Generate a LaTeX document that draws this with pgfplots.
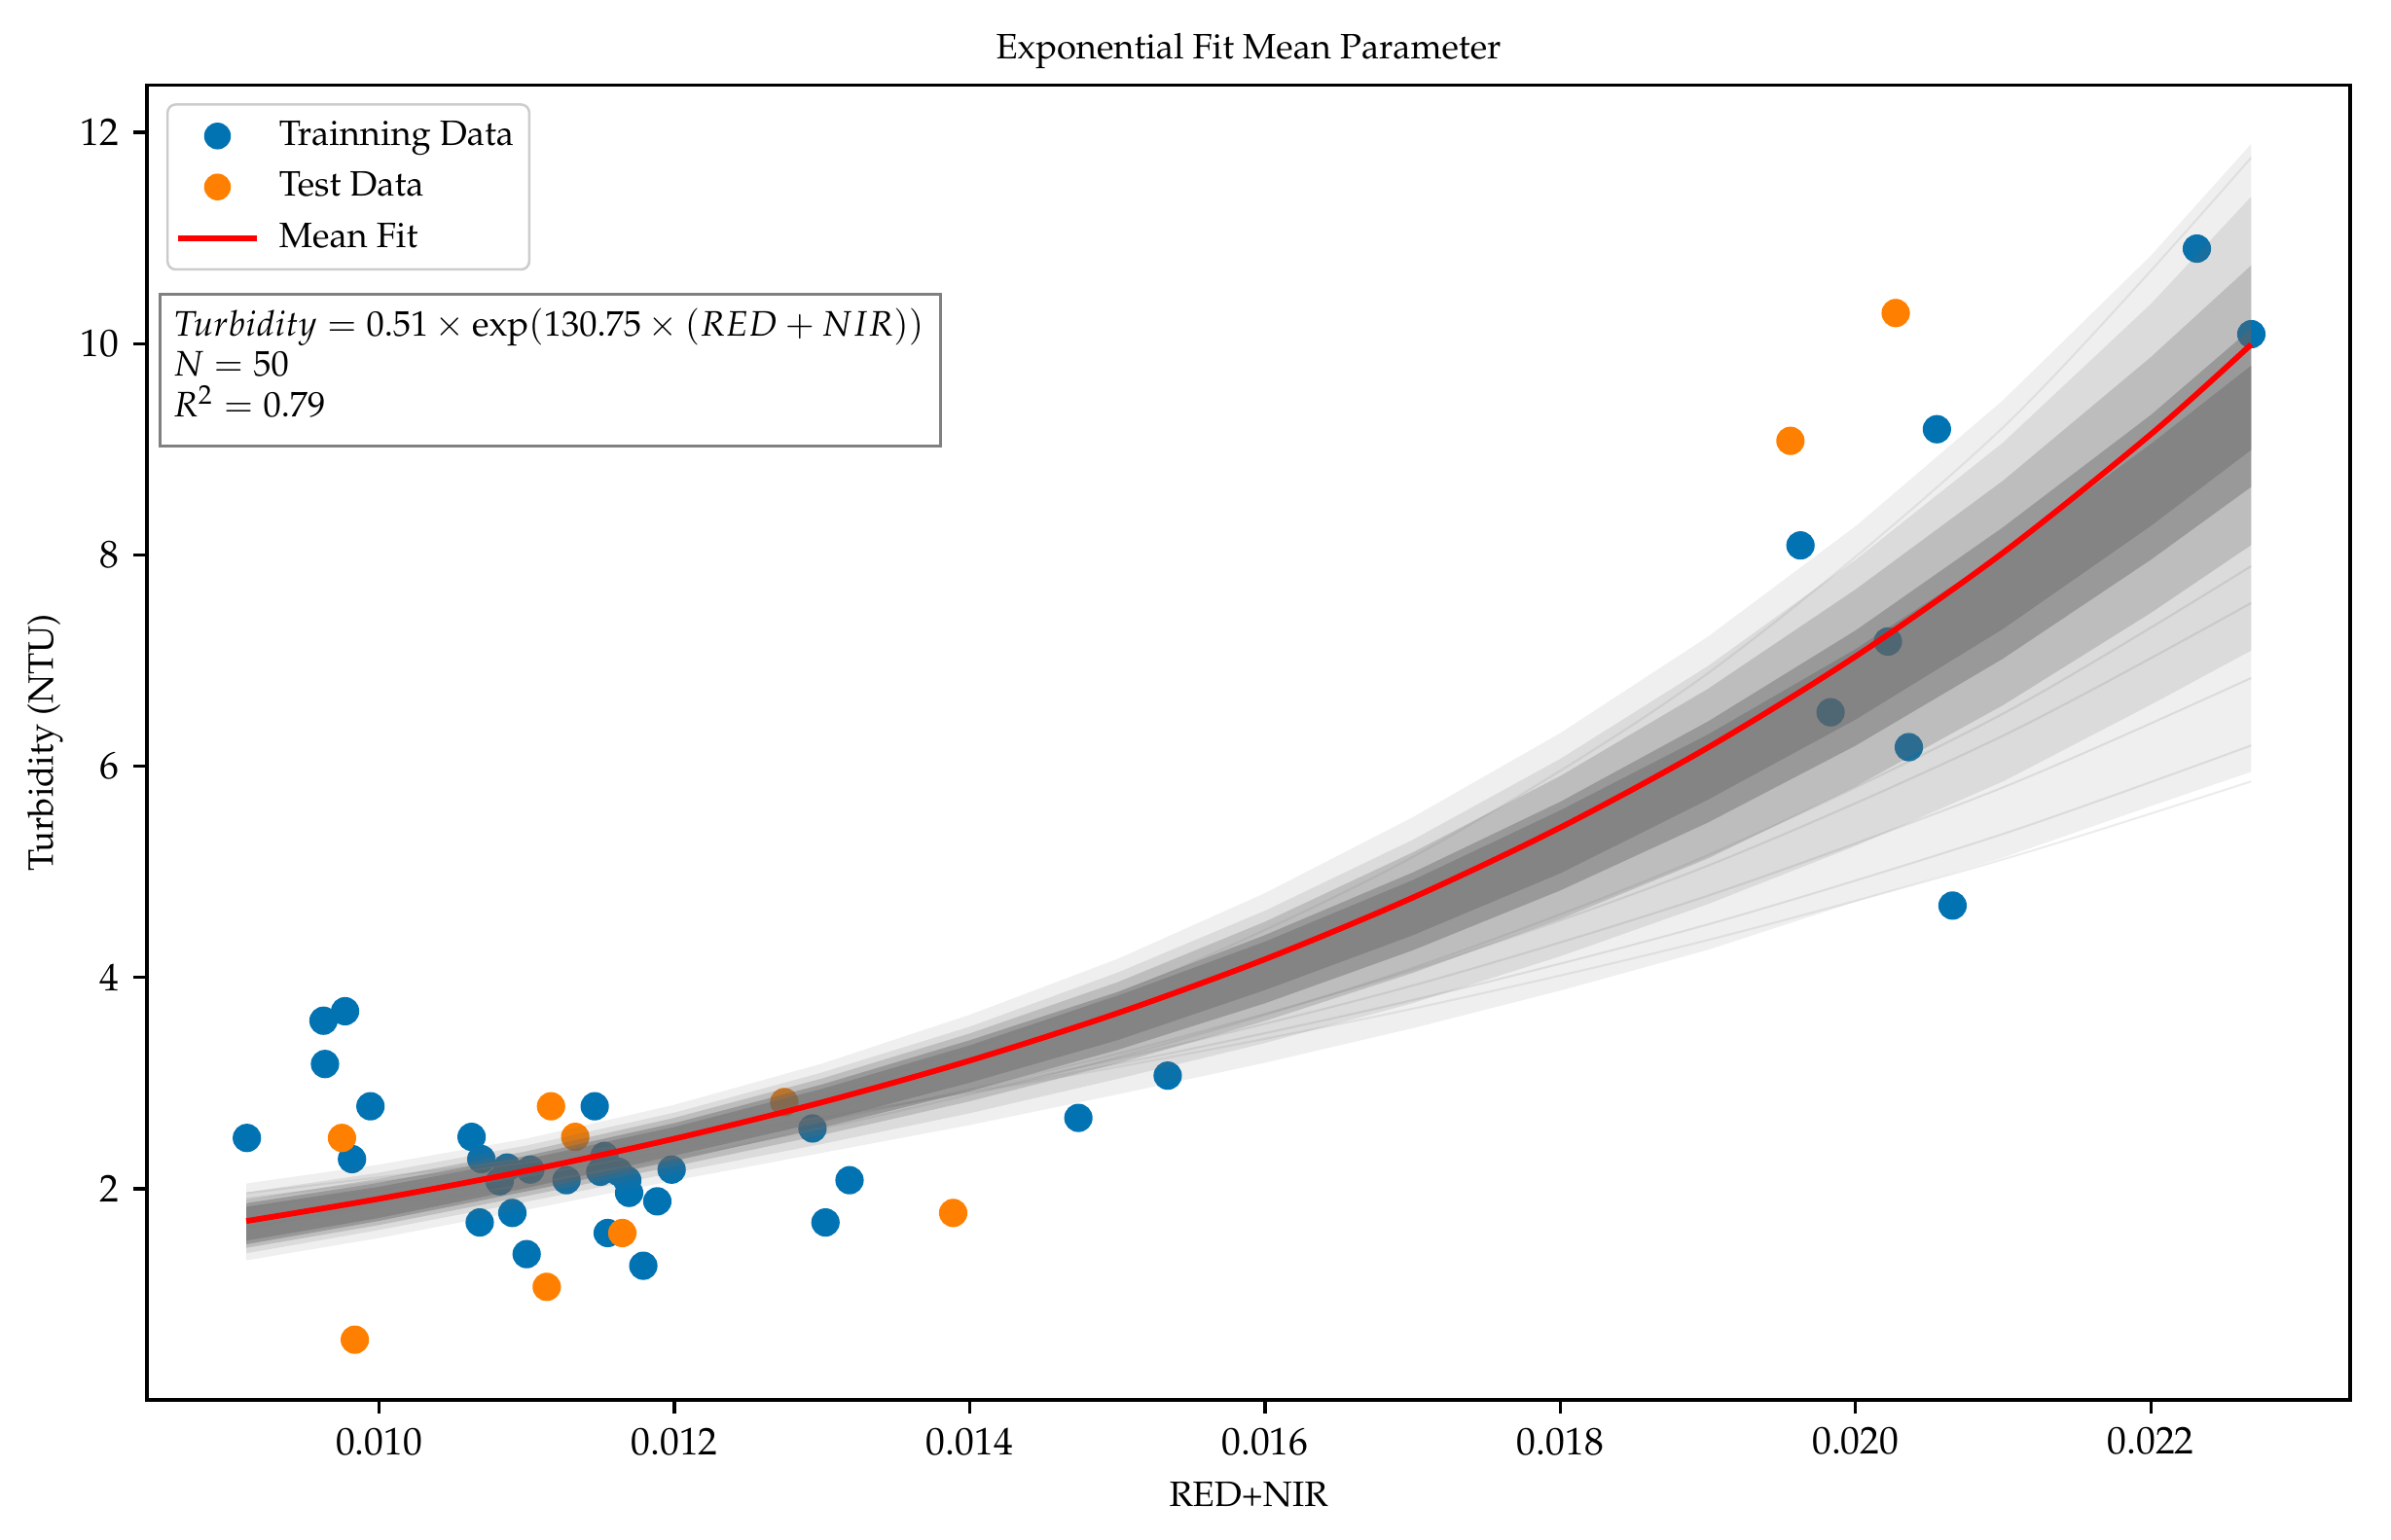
\documentclass[border=0pt]{standalone}
\usepackage[T1]{fontenc}
\usepackage{mathpazo}
\usepackage{pgfplots}
\pgfplotsset{compat=1.18}
\definecolor{cbblue}{RGB}{1,115,178}
\definecolor{cborange}{RGB}{255,128,0}
\definecolor{bandgray}{RGB}{100,100,100}

\pgfplotstableread{
x y
0.009104 2.48
0.009623 3.59
0.009769 3.68
0.009633 3.18
0.009941 2.78
0.009816 2.28
0.010626 2.49
0.010692 2.28
0.010816 2.07
0.010867 2.20
0.011024 2.18
0.011269 2.08
0.011460 2.78
0.011526 2.31
0.011498 2.16
0.011620 2.16
0.011680 2.08
0.011693 1.96
0.011981 2.18
0.011884 1.88
0.010681 1.68
0.010902 1.77
0.010999 1.38
0.011548 1.58
0.011789 1.27
0.012935 2.57
0.013186 2.08
0.013023 1.68
0.014736 2.67
0.015341 3.07
0.022312 10.90
0.022681 10.09
0.020551 9.19
0.019627 8.09
0.020219 7.18
0.019831 6.51
0.020361 6.18
0.020657 4.68
}\traindata

\pgfplotstableread{
x y
0.009748 2.48
0.011164 2.78
0.011328 2.49
0.011647 1.58
0.011135 1.07
0.009835 0.57
0.012744 2.82
0.013888 1.77
0.020272 10.29
0.019559 9.08
}\testdata

\pgfplotstableread{
x y
0.0091 1.693
0.0100 1.904
0.0110 2.170
0.0120 2.473
0.0130 2.818
0.0140 3.212
0.0150 3.661
0.0160 4.172
0.0170 4.755
0.0180 5.419
0.0190 6.176
0.0200 7.039
0.0210 8.022
0.0220 9.142
0.02268 9.993
}\meanfit

% individual faint sample curves (x, curves A..F)
\pgfplotstableread{
x a b c d e f
0.0091 1.906 1.813 1.725 1.639 1.957 1.625
0.0110 2.248 2.183 2.120 2.042 2.281 2.144
0.0130 2.674 2.655 2.635 2.573 2.680 2.869
0.0150 3.181 3.229 3.277 3.244 3.152 3.840
0.0170 3.785 3.923 4.070 4.089 3.704 5.140
0.0190 4.502 4.774 5.058 5.157 4.354 6.880
0.0210 5.359 5.800 6.289 6.498 5.118 9.209
0.02268 6.196 6.835 7.545 7.894 5.856 11.762
}\samples

\begin{document}
\begin{tikzpicture}
\begin{axis}[
  at={(0,0)}, anchor=south west,
  scale only axis,
  clip mode=individual,
  width=543.36pt, height=324.41pt,
  xmin=0.008427, xmax=0.02335,
  ymin=0.0, ymax=12.45,
  xtick={0.010,0.012,0.014,0.016,0.018,0.020,0.022},
  ytick={2,4,6,8,10,12},
  scaled x ticks=false,
  xticklabel style={/pgf/number format/.cd, fixed, fixed zerofill, precision=3},
  ticklabel style={font=\fontsize{9.5}{11}\selectfont},
  tick align=outside,
  major tick length=3.3pt,
  xtick pos=bottom, ytick pos=left,
  tick style={line width=0.8pt, black},
  axis line style={line width=0.8pt},
  every axis title shift=0pt,
  title={Exponential Fit Mean Parameter},
  title style={at={(axis description cs:0.5,1.0197)}, anchor=base, font=\fontsize{8.7}{10}\selectfont, inner sep=0pt},
  xlabel={RED+NIR},
  xlabel style={at={(axis description cs:0.5,-0.0808)}, anchor=base, font=\fontsize{8.7}{10}\selectfont, inner sep=0pt},
  ylabel={Turbidity (NTU)},
  ylabel style={at={(axis description cs:-0.0427,0.5)}, anchor=base, font=\fontsize{8.7}{10}\selectfont, inner sep=0pt},
  legend cell align=left,
  legend style={at={(axis description cs:0.0088,0.986)}, anchor=north west,
    font=\fontsize{8.7}{10}\selectfont, draw=black!20, line width=0.6pt,
    rounded corners=2pt, fill=white, row sep=1.05pt, column sep=2.7pt,
    inner xsep=1.8pt, inner ysep=2pt},
]
\addplot[only marks, mark=*, mark size=3.3pt, color=cbblue, mark options={draw=none, fill=cbblue},
  legend image code/.code={\path[draw=none, fill=none] (0cm,0cm) -- (0.69cm,0cm); \path[draw=none, fill=cbblue] (0.345cm,0cm) circle (3.3pt);}] table {\traindata};
\addlegendentry{Trainning Data}
\addplot[only marks, mark=*, mark size=3.3pt, color=cborange, mark options={draw=none, fill=cborange},
  legend image code/.code={\path[draw=none, fill=none] (0cm,0cm) -- (0.69cm,0cm); \path[draw=none, fill=cborange] (0.345cm,0cm) circle (3.3pt);}] table {\testdata};
\addlegendentry{Test Data}

% band layers built from the sampled curve spread
\addplot[forget plot, draw=none, fill=bandgray, fill opacity=0.10] coordinates {
(0.0091,2.049) (0.0100,2.228) (0.0110,2.474) (0.0120,2.794) (0.0130,3.184) (0.0140,3.646) (0.0150,4.174) (0.0160,4.798) (0.0170,5.516) (0.0180,6.313) (0.0190,7.226) (0.0200,8.271) (0.0210,9.466) (0.0220,10.833) (0.02268,11.892)
(0.02268,5.946) (0.0220,5.622) (0.0210,5.134) (0.0200,4.716) (0.0190,4.261) (0.0180,3.875) (0.0170,3.519) (0.0160,3.192) (0.0150,2.892) (0.0140,2.602) (0.0130,2.339) (0.0120,2.077) (0.0110,1.801) (0.0100,1.533) (0.0091,1.321)
} -- cycle;
\addplot[forget plot, draw=none, fill=bandgray, fill opacity=0.15] coordinates {
(0.0091,1.964) (0.0100,2.152) (0.0110,2.409) (0.0120,2.720) (0.0130,3.100) (0.0140,3.533) (0.0150,4.045) (0.0160,4.631) (0.0170,5.302) (0.0180,6.069) (0.0190,6.948) (0.0200,7.954) (0.0210,9.065) (0.0220,10.376) (0.02268,11.392)
(0.02268,7.095) (0.0220,6.582) (0.0210,5.856) (0.0200,5.244) (0.0190,4.694) (0.0180,4.200) (0.0170,3.756) (0.0160,3.379) (0.0150,3.039) (0.0140,2.714) (0.0130,2.423) (0.0120,2.152) (0.0110,1.877) (0.0100,1.609) (0.0091,1.388)
} -- cycle;
\addplot[forget plot, draw=none, fill=bandgray, fill opacity=0.25] coordinates {
(0.0091,1.896) (0.0100,2.094) (0.0110,2.354) (0.0120,2.671) (0.0130,3.043) (0.0140,3.469) (0.0150,3.954) (0.0160,4.527) (0.0170,5.183) (0.0180,5.907) (0.0190,6.732) (0.0200,7.673) (0.0210,8.704) (0.0220,9.873) (0.02268,10.742)
(0.02268,8.094) (0.0220,7.451) (0.0210,6.578) (0.0200,5.807) (0.0190,5.126) (0.0180,4.552) (0.0170,4.042) (0.0160,3.588) (0.0150,3.185) (0.0140,2.827) (0.0130,2.508) (0.0120,2.213) (0.0110,1.931) (0.0100,1.656) (0.0091,1.439)
} -- cycle;
\addplot[forget plot, draw=none, fill=bandgray, fill opacity=0.40] coordinates {
(0.0091,1.862) (0.0100,2.056) (0.0110,2.311) (0.0120,2.621) (0.0130,2.987) (0.0140,3.405) (0.0150,3.862) (0.0160,4.401) (0.0170,4.993) (0.0180,5.663) (0.0190,6.423) (0.0200,7.285) (0.0210,8.263) (0.0220,9.325) (0.02268,10.143)
(0.02268,8.644) (0.0220,7.954) (0.0210,7.019) (0.0200,6.194) (0.0190,5.466) (0.0180,4.823) (0.0170,4.256) (0.0160,3.755) (0.0150,3.313) (0.0140,2.923) (0.0130,2.578) (0.0120,2.263) (0.0110,1.975) (0.0100,1.695) (0.0091,1.473)
} -- cycle;
\addplot[forget plot, draw=none, fill=bandgray, fill opacity=0.40] coordinates {
(0.0091,1.828) (0.0100,2.018) (0.0110,2.279) (0.0120,2.584) (0.0130,2.945) (0.0140,3.357) (0.0150,3.826) (0.0160,4.339) (0.0170,4.921) (0.0180,5.582) (0.0190,6.300) (0.0200,7.109) (0.0210,8.022) (0.0220,9.051) (0.02268,9.793)
(0.02268,8.994) (0.0220,8.274) (0.0210,7.300) (0.0200,6.441) (0.0190,5.682) (0.0180,4.985) (0.0170,4.398) (0.0160,3.880) (0.0150,3.405) (0.0140,3.003) (0.0130,2.635) (0.0120,2.312) (0.0110,2.007) (0.0100,1.723) (0.0091,1.507)
} -- cycle;
\addplot[forget plot, smooth, gray, line width=0.5pt, opacity=0.18] table[y=a] {\samples};
\addplot[forget plot, smooth, gray, line width=0.5pt, opacity=0.18] table[y=b] {\samples};
\addplot[forget plot, smooth, gray, line width=0.5pt, opacity=0.18] table[y=c] {\samples};
\addplot[forget plot, smooth, gray, line width=0.5pt, opacity=0.18] table[y=d] {\samples};
\addplot[forget plot, smooth, gray, line width=0.5pt, opacity=0.15] table[y=e] {\samples};
\addplot[forget plot, smooth, gray, line width=0.5pt, opacity=0.15] table[y=f] {\samples};

\addplot[color=red, line width=1.4pt, smooth,
  legend image code/.code={\draw[red, line width=1.4pt] (0cm,0cm) -- (0.69cm,0cm);}] table {\meanfit};
\addlegendentry{Mean Fit}

\node[draw=gray, line width=0.8pt, fill=white, anchor=north west, inner sep=0pt,
  minimum width=192.5pt, minimum height=37.4pt] (box) at (axis description cs:0.0051,0.842) {};
\node[anchor=north west, inner sep=0pt, align=left, font=\fontsize{8.75}{10}\selectfont]
  at ([xshift=3.5pt,yshift=-3.6pt]box.north west)
  {$Turbidity = 0.51 \times \exp(130.75 \times (RED + NIR))$\\$N = 50$\\$R^2 = 0.79$};
\end{axis}
\path[use as bounding box] (-36.24pt,-34.56pt) rectangle (553.44pt,345.36pt);
\end{tikzpicture}
\end{document}
